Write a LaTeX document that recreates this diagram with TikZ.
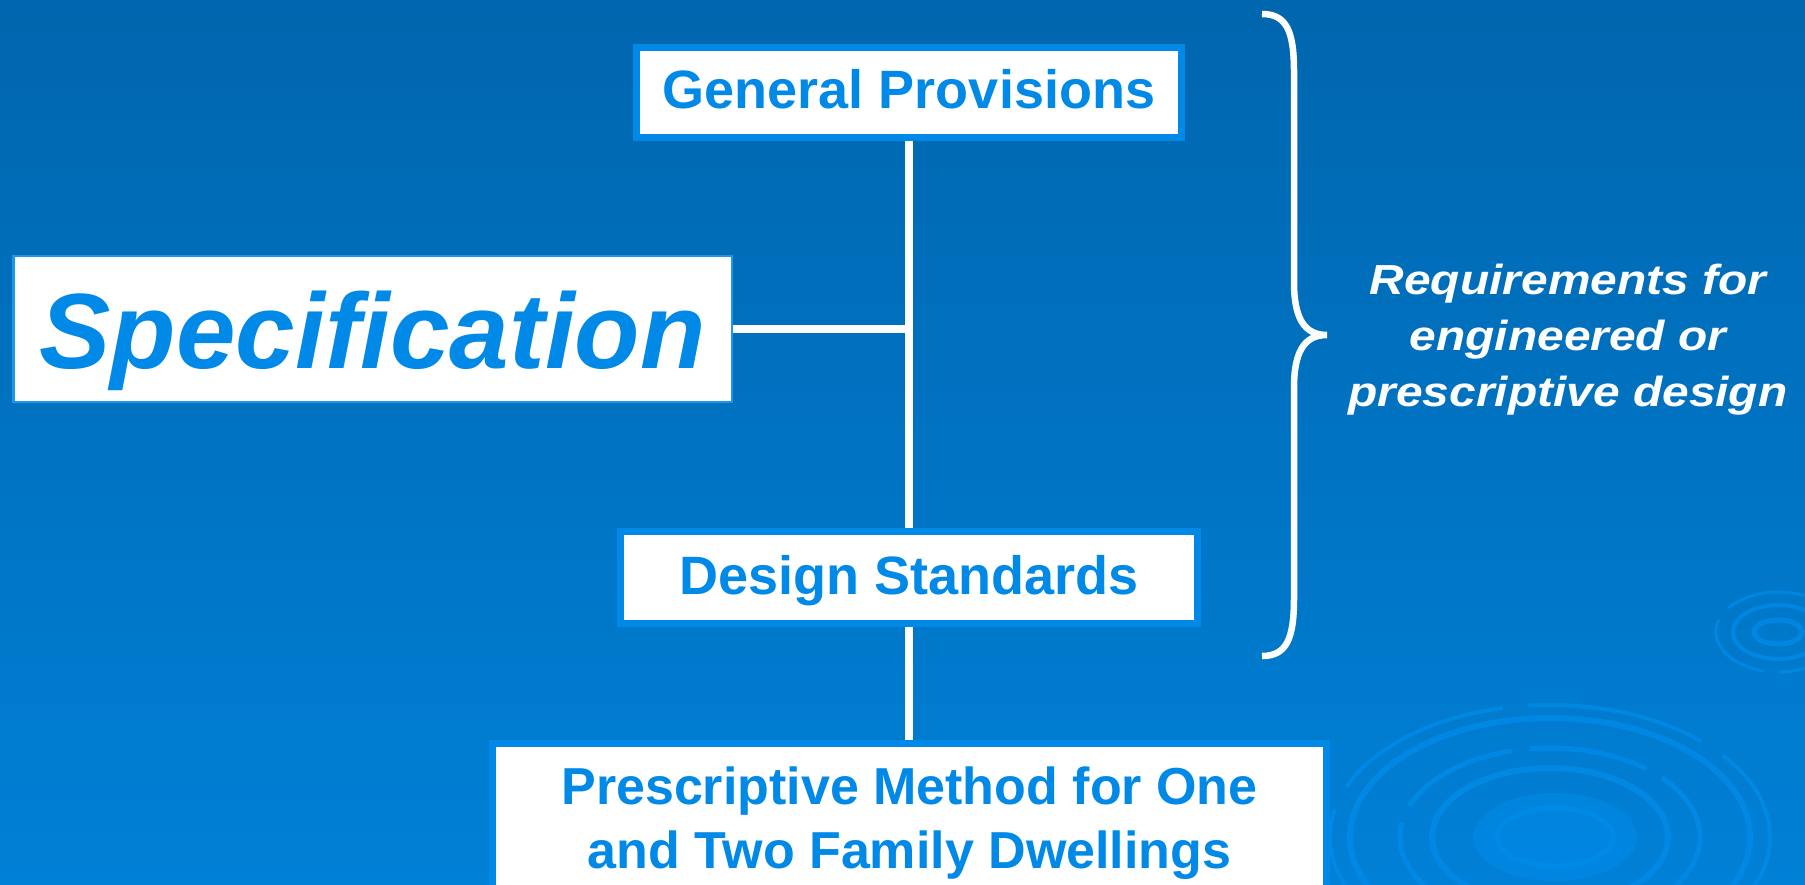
\documentclass[tikz,border=0pt]{standalone}
\usepackage{fontspec}
\setmainfont{Liberation Sans}
\newfontfamily\wideit[FakeStretch=1.14]{Liberation Sans}
\definecolor{bgtop}{RGB}{0,102,174}
\definecolor{bgmid}{RGB}{0,108,184}
\definecolor{bgbot}{RGB}{0,128,214}
\definecolor{boxblue}{RGB}{0,137,230}
\definecolor{specline}{RGB}{30,150,235}
\definecolor{ripple}{RGB}{0,140,234}
\pgfdeclarelayer{bg}
\pgfdeclarelayer{lines}
\pgfsetlayers{bg,lines,main}
\begin{document}
\begin{tikzpicture}[x=1pt,y=-1pt,
  boxbase/.style={draw=boxblue,line width=7pt,fill=white,text=boxblue,inner sep=0pt},
  box/.style={boxbase,font=\fontsize{54}{60}\selectfont\bfseries,text height=37pt,text depth=4pt},
  specbox/.style={draw=specline,line width=2.5pt,fill=white,text=boxblue,inner sep=0pt,
    font=\fontsize{107}{110}\selectfont\bfseries\itshape,text height=82pt,text depth=4pt},
  link/.style={draw=white,line width=8pt},
  ring/.style={draw=ripple,opacity=0.75}]
\useasboundingbox (0,0) rectangle (1805,885);
\begin{pgfonlayer}{bg}
  \shade[top color=bgtop,middle color=bgmid,bottom color=bgbot] (0,0) rectangle (1805,885);
  \begin{scope}
    \clip (0,0) rectangle (1805,885);
    % large ripple
    \draw[ring,line width=4pt,dash pattern=on 180pt off 25pt] (1550,837) ellipse [x radius=220,y radius=132];
    \draw[ring,line width=6pt] (1550,837) ellipse [x radius=200,y radius=119];
    \draw[ring,line width=5pt,dash pattern=on 120pt off 18pt] (1550,837) ellipse [x radius=150,y radius=89];
    \draw[ring,line width=6pt] (1550,837) ellipse [x radius=118,y radius=69];
    \fill[ripple,opacity=0.55] (1555,837) ellipse [x radius=82,y radius=44];
    \draw[ring,line width=5pt] (1555,837) ellipse [x radius=58,y radius=29];
    % small ripple
    \draw[ring,line width=3pt,dash pattern=on 80pt off 15pt] (1778,632) ellipse [x radius=62,y radius=40];
    \draw[ring,line width=4pt] (1778,632) ellipse [x radius=45,y radius=27];
    \draw[ring,line width=5pt] (1778,632) ellipse [x radius=24,y radius=12];
  \end{scope}
\end{pgfonlayer}

\node[box,minimum width=545pt,minimum height=90pt] (gp) at (909,92.5) {General Provisions};
\node[box,minimum width=577pt,minimum height=92pt] (ds) at (909,577.5) {Design Standards};
\node[specbox,minimum width=718.5pt,minimum height=145.5pt] (spec) at (372.5,329) {Specification};
\node[boxbase,anchor=north,minimum width=834pt,inner ysep=23.5pt,align=center,
  font=\fontsize{52}{64}\selectfont\bfseries] (pm) at (909.5,739.5)
  {Prescriptive Method for One\\and Two Family Dwellings};

\begin{pgfonlayer}{lines}
  \coordinate (j) at (gp.south |- spec.east);
  \draw[link] (gp.south) -- (gp.south |- ds.north);
  \draw[link] (ds.south) -- (ds.south |- pm.north);
  \draw[link] (spec.east) -- (j);
\end{pgfonlayer}

% brace
\draw[white,line width=6.5pt] (1262,14) .. controls (1287,14) and (1294,32) .. (1294,72)
  -- (1294,282) .. controls (1294,318) and (1304,335) .. (1327,335)
  .. controls (1304,335) and (1294,352) .. (1294,388)
  -- (1294,598) .. controls (1294,638) and (1287,656) .. (1262,656);

\node[font=\wideit\fontsize{42}{56}\selectfont\bfseries\itshape,text=white,align=center,inner sep=0pt]
  (req) at (1568,340) {Requirements for\\engineered or\\prescriptive design};
\end{tikzpicture}
\end{document}
